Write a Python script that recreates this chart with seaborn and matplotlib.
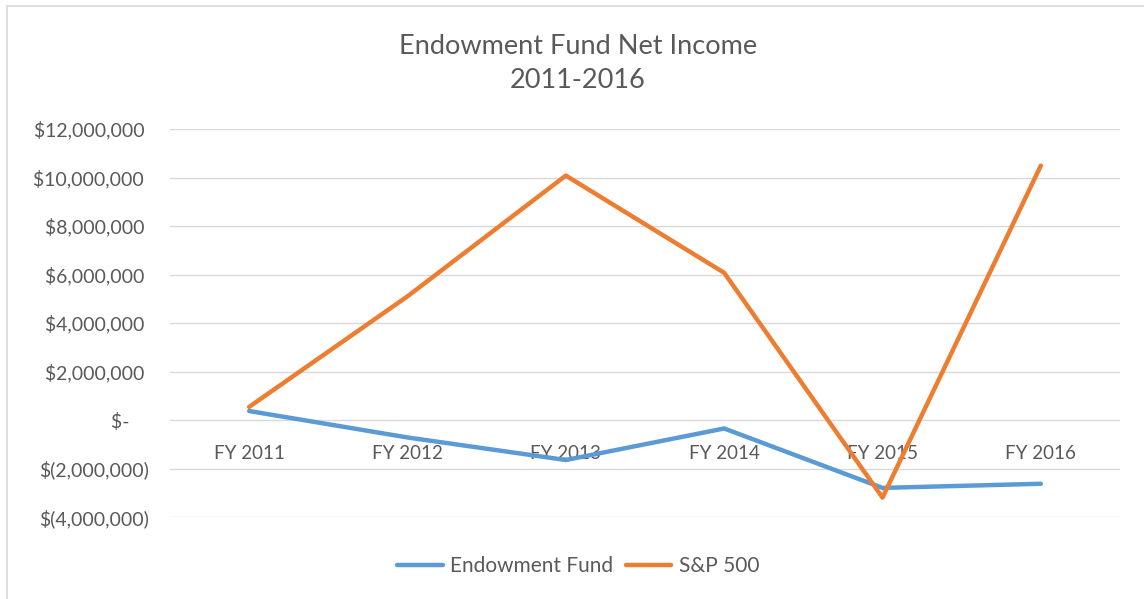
import matplotlib
matplotlib.use("Agg")
import matplotlib.pyplot as plt
import matplotlib.ticker as mticker
from matplotlib.patches import Rectangle
import seaborn as sns
import pandas as pd

categories = ["FY 2011", "FY 2012", "FY 2013", "FY 2014", "FY 2015", "FY 2016"]
endowment = [370000, -720000, -1650000, -350000, -2800000, -2630000]
sp500 = [540000, 5100000, 10080000, 6070000, -3200000, 10490000]
series_names = ["Endowment Fund", "S&P 500"]
colors = ["#5B9BD5", "#ED7D31"]

df = pd.DataFrame({
    "cat": categories * 2,
    "x": list(range(len(categories))) * 2,
    "value": endowment + sp500,
    "series": [series_names[0]] * len(categories) + [series_names[1]] * len(categories),
})

sns.set_theme(style="white")
plt.rcParams["font.family"] = ["Lato", "DejaVu Sans"]

fig = plt.figure(figsize=(11.44, 5.99), dpi=100)
ax = fig.add_axes([170 / 1144, 1 - 517 / 599, (1120 - 170) / 1144, (517 - 129) / 599])

sns.lineplot(data=df, x="x", y="value", hue="series", palette=colors,
             linewidth=3.2, ax=ax, legend=False, sort=False)

ax.set_xlim(-0.5, len(categories) - 0.5)
ax.set_ylim(-4000000, 12000000)
ax.yaxis.set_major_locator(mticker.MultipleLocator(2000000))


def money(v, pos):
    if abs(v) < 1:
        return "$-    "
    if v < 0:
        return "$({:,.0f})".format(-v)
    return "${:,.0f} ".format(v)


ax.yaxis.set_major_formatter(mticker.FuncFormatter(money))
ax.grid(axis="y", color="#D9D9D9", linewidth=1.0)
ax.set_axisbelow(True)
for s in ["top", "right", "left"]:
    ax.spines[s].set_visible(False)
ax.spines["bottom"].set_position(("data", 0))
ax.spines["bottom"].set_visible(False)
ax.set_xticks(range(len(categories)))
ax.set_xticklabels(categories)
ax.tick_params(axis="x", length=0, pad=18, labelsize=13.5, labelcolor="#595959")
ax.tick_params(axis="y", length=0, pad=15, labelsize=14, labelcolor="#595959")
ax.set_xlabel("")
ax.set_ylabel("")

fig.text(0.505, 1 - 46 / 599, "Endowment Fund Net Income", ha="center", va="center",
         fontsize=19.5, color="#595959")
fig.text(0.505, 1 - 81 / 599, "2011-2016", ha="center", va="center",
         fontsize=19.5, color="#595959")

handles = [plt.Line2D([], [], color=c, linewidth=3.2) for c in colors]
fig.legend(handles, series_names, loc="center", bbox_to_anchor=(578 / 1144, 1 - 566 / 599),
           ncol=2, frameon=False, fontsize=15, labelcolor="#595959",
           handlelength=2.2, handletextpad=0.35, columnspacing=0.6)

fig.patches.append(Rectangle((7 / 1144, -0.1), 1.2, 1 - 6 / 599 + 0.1, transform=fig.transFigure,
                             fill=False, edgecolor="#D9D9D9", linewidth=1.2))

fig.savefig("out.png", dpi=100, facecolor="white")
